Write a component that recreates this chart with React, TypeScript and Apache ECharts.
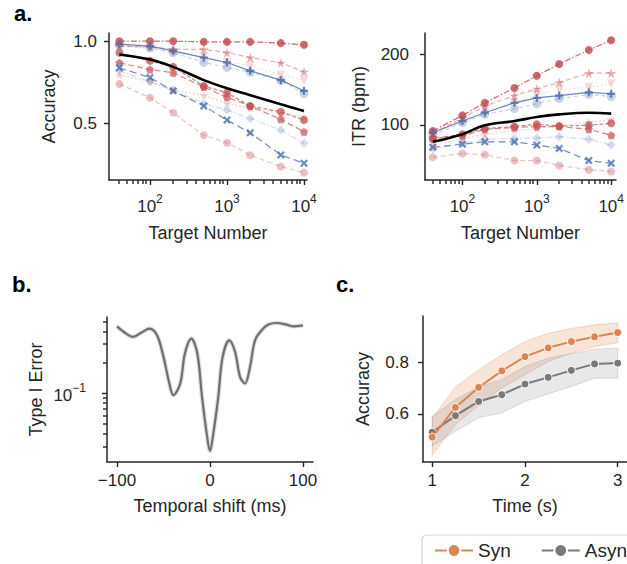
import React, { useEffect, useRef } from 'react';
import * as echarts from 'echarts';

// ---------- data ----------
const targetNumbers = [40, 100, 200, 500, 1000, 2000, 5000, 10000];

// accuracy per method (panel a, left)
const accA = [1.0, 1.0, 1.0, 0.996, 0.996, 0.996, 0.988, 0.978];
const accB = [0.97, 0.965, 0.95, 0.95, 0.93, 0.9, 0.868, 0.813];
const accC = [0.982, 0.97, 0.941, 0.9, 0.87, 0.819, 0.762, 0.697];
const accD = [0.975, 0.96, 0.93, 0.87, 0.84, 0.81, 0.76, 0.68];
const accE = [0.97, 0.955, 0.93, 0.905, 0.87, 0.85, 0.793, 0.762];
const accF = [0.929, 0.88, 0.843, 0.726, 0.685, 0.604, 0.569, 0.518];
const accG = [0.868, 0.827, 0.807, 0.72, 0.657, 0.604, 0.523, 0.447];
const accH = [0.837, 0.778, 0.697, 0.604, 0.518, 0.44, 0.305, 0.254];
const accI = [0.82, 0.752, 0.7, 0.62, 0.579, 0.528, 0.457, 0.376];
const accJ = [0.793, 0.752, 0.7, 0.67, 0.62, 0.59, 0.56, 0.538];
const accK = [0.738, 0.654, 0.563, 0.425, 0.38, 0.303, 0.234, 0.197];
const accMean = [0.919, 0.888, 0.843, 0.762, 0.712, 0.67, 0.615, 0.573];

// ITR per method (panel a, right)
const itrA = [91.6, 113.5, 131.2, 152.2, 169.3, 186, 205.6, 219.5];
const itrB = [88, 110, 126.5, 141.4, 151, 160, 173, 173];
const itrC = [89.4, 105.6, 117.3, 131.2, 138.2, 141.4, 146, 144];
const itrD = [86, 103, 115, 123, 130, 137, 143, 140];
const itrE = [88, 108, 120, 132, 143, 150, 153, 158];
const itrF = [80, 87, 95, 97.8, 101, 98.6, 99.6, 102.4];
const itrG = [82.4, 84.7, 94, 96.4, 97.8, 97.8, 94, 85.6];
const itrH = [68.5, 73, 76.3, 76.3, 71.7, 67, 49.8, 46];
const itrI = [66, 74, 80, 81, 81.7, 83.6, 80, 71.7];
const itrJ = [72, 80, 87, 92, 95, 99, 104, 108];
const itrK = [54.5, 60, 58, 50, 50, 43, 37, 34.5];
const itrMean = [76.3, 87, 99.6, 105.6, 111.2, 115, 117.3, 116];

const accList = [accA, accB, accC, accD, accE, accF, accG, accH, accI, accJ, accK];
const itrList = [itrA, itrB, itrC, itrD, itrE, itrF, itrG, itrH, itrI, itrJ, itrK];

const majorTargetTicks = [100, 1000, 10000];
const minorTargetTicks = [40, 50, 60, 70, 80, 90, 200, 300, 400, 500, 600, 700, 800, 900,
  2000, 3000, 4000, 5000, 6000, 7000, 8000, 9000];
const accTicks = [0.5, 1.0];
const itrTicks = [100, 200];

// panel b
const shifts = [-100, -90.3, -83, -73.5, -65, -57, -50, -43.7, -39.4, -32, -27, -20, -13.6, -8.6, -3.6, 0,
  3.6, 8.9, 13.6, 20.8, 27, 32.3, 37.6, 43, 48.4, 55.6, 62.7, 71.7, 82.4, 89.6, 100];
const typeIError = [0.45, 0.383, 0.355, 0.393, 0.428, 0.368, 0.227, 0.125, 0.0963, 0.125, 0.244, 0.342, 0.244, 0.0927, 0.0409, 0.0275,
  0.0409, 0.0927, 0.227, 0.329, 0.253, 0.145, 0.125, 0.181, 0.329, 0.412, 0.468, 0.485, 0.468, 0.45, 0.46];
const shiftTicks = [-100, 0, 100];
const majorErrTicks = [0.1];
const minorErrTicks = [0.03, 0.04, 0.05, 0.06, 0.07, 0.08, 0.09, 0.2, 0.3, 0.4, 0.5];

// panel c
const times = [1, 1.25, 1.5, 1.75, 2, 2.25, 2.5, 2.75, 3];
const synMean = [0.51, 0.625, 0.702, 0.766, 0.821, 0.855, 0.879, 0.898, 0.914];
const synLow = [0.44, 0.559, 0.632, 0.7, 0.751, 0.802, 0.835, 0.86, 0.875];
const synHigh = [0.585, 0.704, 0.77, 0.828, 0.879, 0.911, 0.93, 0.943, 0.952];
const asynMean = [0.529, 0.593, 0.648, 0.674, 0.715, 0.741, 0.768, 0.793, 0.796];
const asynLow = [0.475, 0.533, 0.585, 0.604, 0.648, 0.677, 0.706, 0.738, 0.738];
const asynHigh = [0.59, 0.655, 0.704, 0.732, 0.783, 0.815, 0.832, 0.85, 0.854];
const timeTicks = [1, 2, 3];
const accCTicks = [0.6, 0.8];

// ---------- axis ranges ----------
const A1X: [number, number] = [29.35, 10940];
const A1Y: [number, number] = [0.152, 1.05];
const A2X: [number, number] = [31.4, 11600];
const A2Y: [number, number] = [22.5, 229.6];
const BX: [number, number] = [-110.75, 110.75];
const BY: [number, number] = [0.0215, 0.555];
const CX: [number, number] = [0.9, 3.1];
const CY: [number, number] = [0.414, 0.978];

// ---------- styles ----------
const INK = '#262626';
const FONT = 'Liberation Sans, Arial, sans-serif';
const RED = '#c44e52';
const BLUE = '#4c72b0';
const ORANGE = '#dd8452';
const GRAY = '#797979';
const STAR = 'path://M50,0 L61,35 L98,35 L68,57 L79,91 L50,70 L21,91 L32,57 L2,35 L39,35 Z';
const PLUS = 'path://M36,0 H64 V36 H100 V64 H64 V100 H36 V64 H0 V36 H36 Z';
const CROSS = 'path://M0,20 L20,0 L50,30 L80,0 L100,20 L70,50 L100,80 L80,100 L50,70 L20,100 L0,80 L30,50 Z';
const PENTA = 'path://M50,0 L100,38 L81,100 L19,100 L0,38 Z';

const methodStyles: any[] = [
  { color: RED, alpha: 0.85, symbol: 'circle', size: 8, dash: [6, 2, 1.5, 2] },
  { color: RED, alpha: 0.45, symbol: STAR, size: 10, dash: [5, 3] },
  { color: BLUE, alpha: 0.85, symbol: PLUS, size: 8, dash: 'solid' },
  { color: BLUE, alpha: 0.3, symbol: 'circle', size: 9, dash: [4, 3] },
  { color: RED, alpha: 0.2, symbol: 'triangle', size: 9, dash: [2, 2], rotate: 180 },
  { color: RED, alpha: 0.75, symbol: 'circle', size: 8, dash: [4, 2] },
  { color: RED, alpha: 0.7, symbol: PENTA, size: 8, dash: [6, 3] },
  { color: BLUE, alpha: 0.8, symbol: CROSS, size: 8, dash: [7, 4] },
  { color: BLUE, alpha: 0.25, symbol: 'diamond', size: 9, dash: [6, 2, 1.5, 2] },
  { color: RED, alpha: 0.25, symbol: STAR, size: 9, dash: [2, 2] },
  { color: RED, alpha: 0.35, symbol: 'circle', size: 8, dash: [5, 3] },
];

const tickText = { color: INK, fontFamily: FONT, fontSize: 17 };
const nameText = { color: INK, fontFamily: FONT, fontSize: 18 };
const axisLineStyle = { show: true, onZero: false, lineStyle: { color: INK, width: 1.5 } };
const tickLine = { color: INK, width: 1.4 };
const supRich = {
  b: { fontSize: 17, color: INK, fontFamily: FONT, lineHeight: 22, verticalAlign: 'bottom' },
  s: { fontSize: 12, color: INK, fontFamily: FONT, lineHeight: 22, verticalAlign: 'top' },
};

function logX(grid: number, range: [number, number]): any {
  return {
    type: 'log', logBase: 10, gridIndex: grid, min: range[0], max: range[1], position: 'bottom',
    axisLine: axisLineStyle, splitLine: { show: false },
    axisTick: { show: true, length: 5, customValues: majorTargetTicks, lineStyle: tickLine },
    axisLabel: {
      customValues: majorTargetTicks, margin: 13,
      formatter: (v: number) => `{b|10}{s|${Math.round(Math.log10(v))}}`,
      rich: supRich,
    },
    name: 'Target Number', nameLocation: 'middle', nameGap: 44, nameTextStyle: nameText,
  };
}

function valueX(grid: number, range: [number, number], ticks: number[], name: string, fmt: (v: number) => string): any {
  return {
    type: 'value', gridIndex: grid, min: range[0], max: range[1], position: 'bottom',
    axisLine: axisLineStyle, splitLine: { show: false },
    axisTick: { show: true, length: 5, customValues: ticks, lineStyle: tickLine },
    axisLabel: { customValues: ticks, margin: 10, formatter: fmt, ...tickText },
    name, nameLocation: 'middle', nameGap: 35, nameTextStyle: nameText,
  };
}

function valueY(grid: number, range: [number, number], ticks: number[], name: string, gap: number, margin: number, fmt: (v: number) => string): any {
  return {
    type: 'value', gridIndex: grid, min: range[0], max: range[1], position: 'left',
    axisLine: axisLineStyle, splitLine: { show: false },
    axisTick: { show: true, length: 5, customValues: ticks, lineStyle: tickLine },
    axisLabel: { customValues: ticks, formatter: fmt, margin, ...tickText },
    name, nameLocation: 'middle', nameGap: gap, nameTextStyle: nameText,
  };
}

function bandSeries(low: number[], high: number[], fill: string, edge: string): any {
  return {
    type: 'custom', xAxisIndex: 3, yAxisIndex: 3, silent: true, z: 1,
    data: times.map((t, i) => [t, low[i], high[i]]),
    renderItem: (params: any, api: any) => {
      if (params.dataIndex !== 0) return null;
      const upper = times.map((t, i) => api.coord([t, high[i]]));
      const lower = times.map((t, i) => api.coord([t, low[i]])).reverse();
      return {
        type: 'polygon',
        shape: { points: upper.concat(lower) },
        style: { fill, stroke: edge, lineWidth: 1 },
      };
    },
  };
}

function panelLabels(): any[] {
  const label = (text: string, x: number, y: number) => ({
    type: 'text', x, y, z: 50,
    style: { text, font: `bold 22px ${FONT}`, fill: '#000' },
  });
  return [label('a.', 14, 2), label('b.', 12, 273), label('c.', 336, 273)];
}

// minor tick marks positioned through each grid's own axes (convertToPixel)
function tickGraphics(chart: any): any[] {
  const out: any[] = [];
  const W = 1.4;
  const xt = (g: number, values: number[], yMin: number, len: number) => {
    values.forEach((v) => {
      const p = chart.convertToPixel({ xAxisIndex: g, yAxisIndex: g }, [v, yMin]);
      if (!p || !isFinite(p[0])) return;
      out.push({
        type: 'rect', z: 60, silent: true,
        shape: { x: Math.round(p[0]) - W / 2, y: Math.round(p[1]), width: W, height: len + 1 },
        style: { fill: INK },
      });
    });
  };
  const yt = (g: number, values: number[], xMin: number, len: number) => {
    values.forEach((v) => {
      const p = chart.convertToPixel({ xAxisIndex: g, yAxisIndex: g }, [xMin, v]);
      if (!p || !isFinite(p[1])) return;
      out.push({
        type: 'rect', z: 60, silent: true,
        shape: { x: Math.round(p[0]) - len - 1, y: Math.round(p[1]) - W / 2, width: len + 1, height: W },
        style: { fill: INK },
      });
    });
  };
  xt(0, minorTargetTicks, A1Y[0], 3);
  xt(1, minorTargetTicks, A2Y[0], 3);
  yt(2, minorErrTicks, BX[0], 3);
  return out;
}

function buildOption(): any {
  const series: any[] = [];
  [0, 1].forEach((panel) => {
    const list = panel === 0 ? accList : itrList;
    list.forEach((vals, k) => {
      const st = methodStyles[k];
      series.push({
        type: 'line', xAxisIndex: panel, yAxisIndex: panel,
        data: targetNumbers.map((n, i) => [n, vals[i]]),
        symbol: st.symbol, symbolSize: st.size, symbolRotate: st.rotate || 0,
        itemStyle: { color: st.color, opacity: st.alpha },
        lineStyle: { color: st.color, opacity: st.alpha, width: 1.2, type: st.dash },
        z: 2,
      });
    });
    const mean = panel === 0 ? accMean : itrMean;
    series.push({
      type: 'line', xAxisIndex: panel, yAxisIndex: panel,
      data: targetNumbers.map((n, i) => [n, mean[i]]),
      symbol: 'none', smooth: 0.4,
      lineStyle: { color: '#000', width: 2.6 }, z: 5,
    });
  });

  // panel b
  series.push({
    type: 'line', xAxisIndex: 2, yAxisIndex: 2,
    data: shifts.map((s, i) => [s, typeIError[i]]),
    symbol: 'none', smooth: 0.35,
    lineStyle: { color: 'rgba(150,150,150,0.3)', width: 4.5 }, z: 2,
  });
  series.push({
    type: 'line', xAxisIndex: 2, yAxisIndex: 2,
    data: shifts.map((s, i) => [s, typeIError[i]]),
    symbol: 'none', smooth: 0.35,
    lineStyle: { color: '#6f6f6f', width: 2.2 }, z: 3,
  });

  // panel c
  series.push(bandSeries(synLow, synHigh, 'rgba(221,132,82,0.22)', 'rgba(221,132,82,0.3)'));
  series.push(bandSeries(asynLow, asynHigh, 'rgba(140,140,140,0.2)', 'rgba(140,140,140,0.28)'));
  series.push({
    name: 'Syn', type: 'line', xAxisIndex: 3, yAxisIndex: 3,
    data: times.map((t, i) => [t, synMean[i]]),
    symbol: 'circle', symbolSize: 8,
    itemStyle: { color: ORANGE, borderColor: '#fff', borderWidth: 1 },
    lineStyle: { color: ORANGE, width: 2 }, z: 4,
  });
  series.push({
    name: 'Asyn', type: 'line', xAxisIndex: 3, yAxisIndex: 3,
    data: times.map((t, i) => [t, asynMean[i]]),
    symbol: 'circle', symbolSize: 8,
    itemStyle: { color: GRAY, borderColor: '#fff', borderWidth: 1 },
    lineStyle: { color: GRAY, width: 2 }, z: 3,
  });

  return {
    animation: false,
    backgroundColor: '#fff',
    textStyle: { fontFamily: FONT },
    grid: [
      { left: 109, top: 33, width: 198, height: 147 },
      { left: 425, top: 33, width: 199, height: 147 },
      { left: 107, top: 317, width: 206, height: 145 },
      { left: 423, top: 316, width: 205, height: 146 },
    ],
    xAxis: [
      logX(0, A1X),
      logX(1, A2X),
      valueX(2, BX, shiftTicks, 'Temporal shift (ms)', (v) => (v < 0 ? '\u2212' + Math.abs(v) : String(v))),
      valueX(3, CX, timeTicks, 'Time (s)', (v) => String(v)),
    ],
    yAxis: [
      valueY(0, A1Y, accTicks, 'Accuracy', 51, 12, (v) => v.toFixed(1)),
      valueY(1, A2Y, itrTicks, 'ITR (bpm)', 57, 16, (v) => String(Math.round(v))),
      {
        type: 'log', logBase: 10, gridIndex: 2, min: BY[0], max: BY[1], position: 'left',
        axisLine: axisLineStyle, splitLine: { show: false },
        axisTick: { show: true, length: 5, customValues: majorErrTicks, lineStyle: tickLine },
        axisLabel: { customValues: majorErrTicks, margin: 21, formatter: () => '{b|10}{s|\u22121}', rich: supRich },
        name: 'Type I Error', nameLocation: 'middle', nameGap: 62, nameTextStyle: nameText,
      },
      valueY(3, CY, accCTicks, 'Accuracy', 51, 14, (v) => v.toFixed(1)),
    ],
    legend: {
      data: ['Syn', 'Asyn'], left: 422, top: 535, orient: 'horizontal', width: 300,
      borderColor: '#d4d4d4', borderWidth: 1.2, borderRadius: 5, backgroundColor: '#fff',
      padding: [6, 12, 10, 12], itemGap: 30, itemWidth: 38, itemHeight: 16,
      textStyle: { color: INK, fontFamily: FONT, fontSize: 19 },
    },
    graphic: panelLabels(),
    series,
  };
}

export default function App() {
  const ref = useRef<HTMLDivElement>(null);
  useEffect(() => {
    if (!ref.current) return;
    const chart = echarts.init(ref.current, null, { renderer: 'svg' });
    chart.setOption(buildOption());
    chart.setOption({ graphic: panelLabels().concat(tickGraphics(chart)) });
    return () => chart.dispose();
  }, []);
  return (
    <div
      ref={ref}
      style={{ position: 'fixed', left: 0, top: 0, width: 627, height: 564, background: '#fff' }}
    />
  );
}
